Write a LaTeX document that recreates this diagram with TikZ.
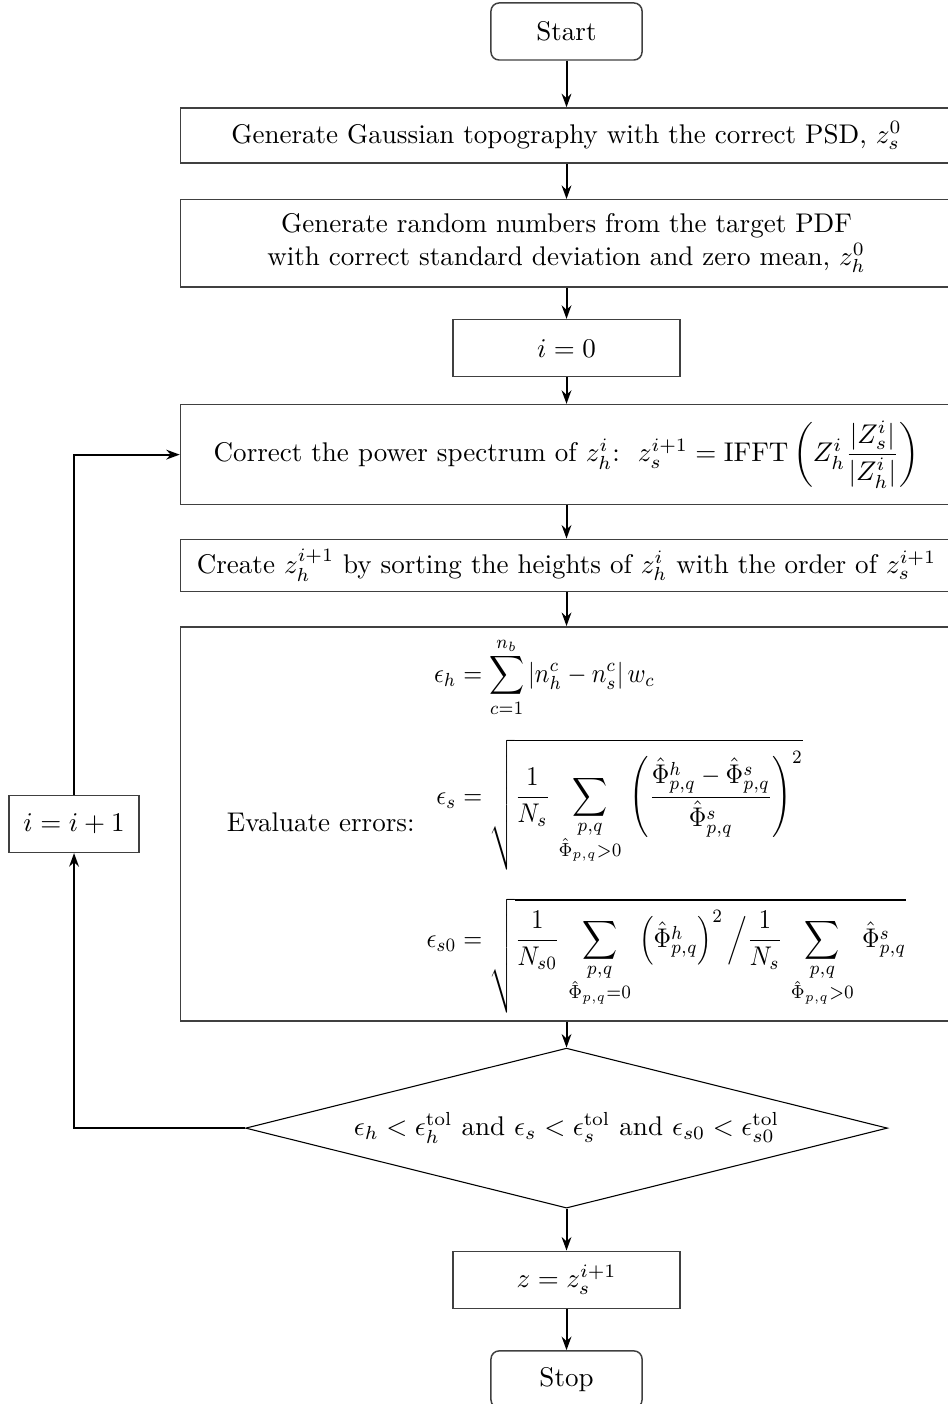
\documentclass[tikz,border=0pt]{standalone}
\usepackage{amsmath}
\usepackage{tikz}
\usetikzlibrary{arrows.meta,positioning,shapes.geometric}
\tikzset{
  block/.style={draw=black!75,line width=0.55pt,align=center,inner sep=2pt},
  terminal/.style={block,rounded corners=3pt,minimum width=55.9pt,minimum height=21.1pt},
  wide/.style={block,minimum width=285.6pt},
  small/.style={block,minimum width=84pt,minimum height=21.1pt},
  check/.style={draw,line width=0.4pt,diamond,aspect=4,inner sep=0pt,
    minimum width=237.5pt,minimum height=59.2pt},
  arrow/.style={-{Stealth[length=5pt,width=3.6pt]},line width=0.75pt}
}

\begin{document}
\begin{tikzpicture}[node distance=12.3pt]
\useasboundingbox (-209.6pt,11.65pt) rectangle (140.8pt,-507.8pt);
\node[terminal] (start) at (0,0) {Start};
\node[wide,minimum height=20.4pt,below=17.2pt of start] (gauss)
  {Generate Gaussian topography with the correct PSD, $z_s^0$};
\node[wide,minimum height=32.2pt,below=13pt of gauss] (target)
  {Generate random numbers from the target PDF\\
   with correct standard deviation and zero mean, $z_h^0$};
\node[small,below=11.6pt of target] (init) {$i = 0$};
\node[wide,minimum height=37pt,below=9.8pt of init] (corr)
  {Correct the power spectrum of $z_h^i$:\ \ $z_s^{i+1} = \mathrm{IFFT}\left(Z_h^i\dfrac{|Z_s^i|}{|Z_h^i|}\right)$};
\node[wide,minimum height=19.2pt,below=of corr] (sort)
  {Create $z_h^{i+1}$ by sorting the heights of $z_h^i$ with the order of $z_s^{i+1}$};
\node[wide,inner sep=1pt,text height=74.9pt,text depth=68.9pt,below=12.6pt of sort] (errors)
  {Evaluate errors: \scalebox{0.9}[1]{$\displaystyle\begin{aligned}
    \epsilon_h &= \sum_{c=1}^{n_b} |n_h^c - n_s^c|\, w_c\\[1ex]
    \epsilon_s &= \sqrt{\frac{1}{N_s}\,\sum_{\substack{p,q\\\hat\Phi_{p,q}>0}}\,
      \left(\frac{\hat\Phi^h_{p,q}-\hat\Phi^s_{p,q}}{\hat\Phi^s_{p,q}}\right)^{2}}\\[1.5ex]
    \epsilon_{s0} &= \sqrt{\frac{1}{N_{s0}}\,\sum_{\substack{p,q\\\hat\Phi_{p,q}=0}}\,
      \left(\hat\Phi^h_{p,q}\right)^{2}\Big/\frac{1}{N_s}\,\sum_{\substack{p,q\\\hat\Phi_{p,q}>0}}\,
      \hat\Phi^s_{p,q}}
  \end{aligned}$}};
\node[check,below=9.6pt of errors] (test)
  {$\epsilon_h<\epsilon_h^{\mathrm{tol}}$ and $\epsilon_s<\epsilon_s^{\mathrm{tol}}$ and
   $\epsilon_{s0}<\epsilon_{s0}^{\mathrm{tol}}$};
\node[small,below=15.5pt of test] (result) {$z = z_s^{i+1}$};
\node[terminal,below=15.2pt of result] (stop) {Stop};
\node[block,minimum width=48.1pt,minimum height=21.1pt,left=14.8pt of errors] (incr)
  {$i = i + 1$};
% main column
\draw[arrow] (start)--(gauss); \draw[arrow] (gauss)--(target);
\draw[arrow] (target)--(init); \draw[arrow] (init)--(corr);
\draw[arrow] (corr)--(sort); \draw[arrow] (sort)--(errors);
\draw[arrow] (errors)--(test); \draw[arrow] (test)--(result);
\draw[arrow] (result)--(stop);
% loop back
\draw[arrow] (test.west) -| (incr.south);
\draw[arrow] (incr.north) |- (corr.west);
\end{tikzpicture}
\end{document}
